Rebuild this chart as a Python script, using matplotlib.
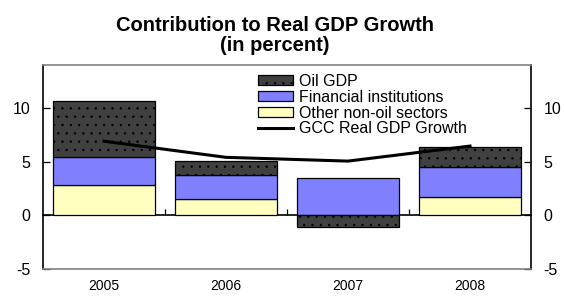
import matplotlib
matplotlib.use("Agg")
from matplotlib import pyplot as plt
import numpy as np

plt.rcParams['font.family'] = ['Liberation Sans', 'DejaVu Sans']
plt.rcParams['axes.unicode_minus'] = False
plt.rcParams['hatch.linewidth'] = 0.5

# values (percentage points)
years = ["2005", "2006", "2007", "2008"]
other_non_oil = [2.8, 1.5, 0.0, 1.7]
financial = [2.65, 2.3, 3.45, 2.8]
oil_gdp = [5.2, 1.3, -1.1, 1.85]
gcc_growth = [6.9, 5.4, 5.05, 6.45]

x = np.arange(len(years))
other_arr = np.array(other_non_oil)
fin_arr = np.array(financial)
oil_arr = np.array(oil_gdp)
# negative oil contribution hangs below zero, positive stacks on top
oil_bottom = np.where(oil_arr >= 0, other_arr + fin_arr, 0)

fig = plt.figure(figsize=(5.64, 2.96), dpi=100)
ax = fig.add_axes([0.0762, 0.0912, 0.8653, 0.6892])

w = 0.84
b_other = ax.bar(x, other_arr, w, color="#ffffc0", edgecolor="black", linewidth=0.9,
                 label="Other non-oil sectors", zorder=2)
b_fin = ax.bar(x, fin_arr, w, bottom=other_arr, color="#8080ff", edgecolor="black",
               linewidth=0.9, label="Financial institutions", zorder=2)
b_oil = ax.bar(x, oil_arr, w, bottom=oil_bottom, color="#404040", edgecolor="black",
               linewidth=0.9, hatch="..", label="Oil GDP", zorder=2)
line, = ax.plot(x, gcc_growth, color="black", linewidth=2.2,
                label="GCC Real GDP Growth", zorder=3)

ax.set_xlim(-0.5, 3.5)
ax.set_ylim(-5, 14)
ax.set_yticks([-5, 0, 5, 10])
ax.tick_params(axis="y", direction="in", length=5, width=0.9, labelsize=11.5,
               left=True, right=True, labelleft=True, labelright=True, pad=9)
ax.set_xticks(x)
ax.set_xticklabels(years)
ax.tick_params(axis="x", length=0, labelsize=10, pad=7)

for side in ("left", "right"):
    ax.spines[side].set_color("black")
    ax.spines[side].set_linewidth(1.2)
for side in ("top", "bottom"):
    ax.spines[side].set_color("#808080")
    ax.spines[side].set_linewidth(1.2)

# zero axis with category boundary ticks
zero = ax.secondary_xaxis(5 / 19)
zero.set_xticks(x[:-1] + 0.5)
zero.set_xticklabels([])
zero.tick_params(direction="in", length=4, width=0.9, color="black")
zero.spines["bottom"].set_linewidth(1.2)
zero.spines["bottom"].set_color("black")

ax.legend([b_oil, b_fin, b_other, line],
          ["Oil GDP", "Financial institutions", "Other non-oil sectors",
           "GCC Real GDP Growth"],
          loc="upper left", bbox_to_anchor=(258 / 564, 1 - 74 / 296),
          bbox_transform=fig.transFigure, frameon=False, fontsize=11.5,
          handlelength=2.2, handleheight=0.6, handletextpad=0.35,
          labelspacing=0.05, borderpad=0, borderaxespad=0)

fig.text(0.487, 0.88, "Contribution to Real GDP Growth\n(in percent)",
         ha="center", va="center", fontsize=14.5, fontweight="bold",
         linespacing=1.1)

fig.savefig("out.png", dpi=100)
